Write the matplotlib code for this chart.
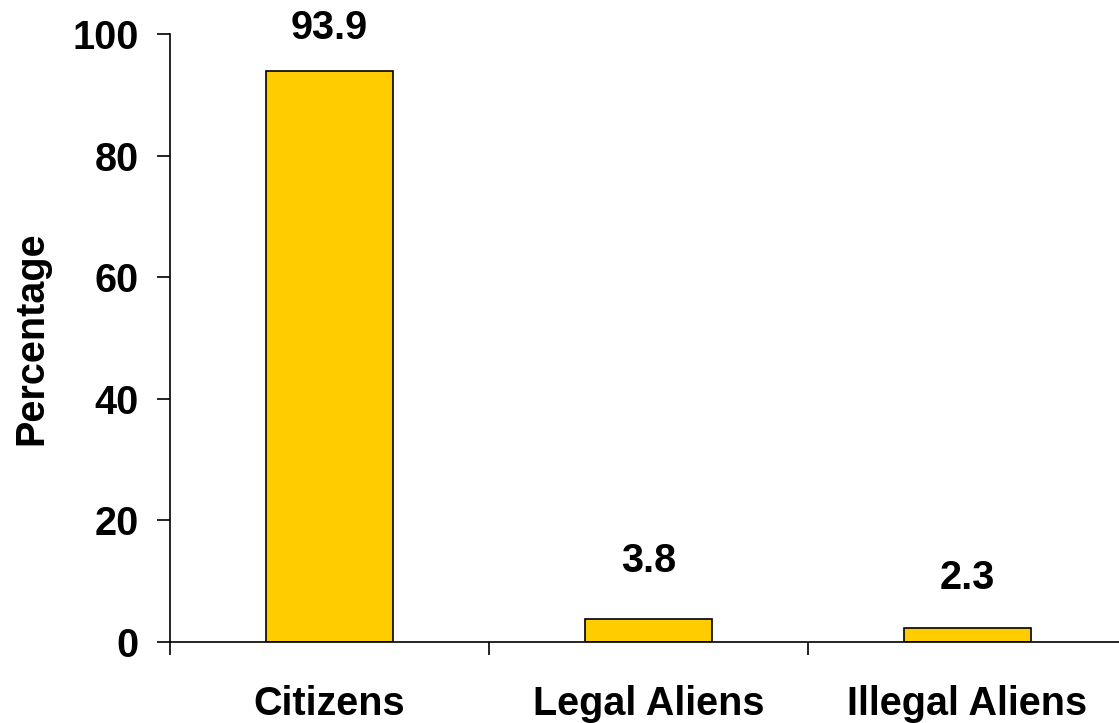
import numpy as np
import matplotlib.pyplot as plt

plt.rcParams['font.family'] = ['Liberation Sans', 'DejaVu Sans']
plt.rcParams['font.weight'] = 'bold'

categories = ["Citizens", "Legal Aliens", "Illegal Aliens"]
values = [93.9, 3.8, 2.3]
yticks = [0, 20, 40, 60, 80, 100]

# label offsets above each bar (points)
label_offsets = [31, 42, 36]

fig = plt.figure(figsize=(11.19, 7.23), dpi=100)
ax = fig.add_axes([170 / 1119, 81 / 723, 957 / 1119, 608 / 723])

x = np.arange(len(categories))
ax.bar(x, values, width=0.4, color="#FFCC00", edgecolor="black", linewidth=1.2)

for xi, v, off in zip(x, values, label_offsets):
    ax.annotate(f"{v:.1f}", (xi, v), xytext=(0, off), textcoords="offset points",
                ha="center", va="center", fontsize=28.5, fontweight="bold")

ax.set_xlim(-0.5, len(categories) - 0.5)
ax.set_ylim(0, 100)
ax.set_yticks(yticks)
ax.set_xticks(x)
ax.set_xticklabels(categories)
ax.set_xticks(np.arange(len(categories) + 1) - 0.5, minor=True)
ax.tick_params(axis="x", which="major", length=0, pad=31, labelsize=28.5)
ax.tick_params(axis="x", which="minor", length=9.5, width=1.2, direction="out")
ax.tick_params(axis="y", length=9.5, width=1.2, pad=13, labelsize=28.5)

ax.set_ylabel("Percentage", fontsize=28.5, fontweight="bold", labelpad=16)

for s in ["top", "right"]:
    ax.spines[s].set_visible(False)
for s in ["left", "bottom"]:
    ax.spines[s].set_linewidth(1.2)

plt.savefig("out.png", dpi=100)
